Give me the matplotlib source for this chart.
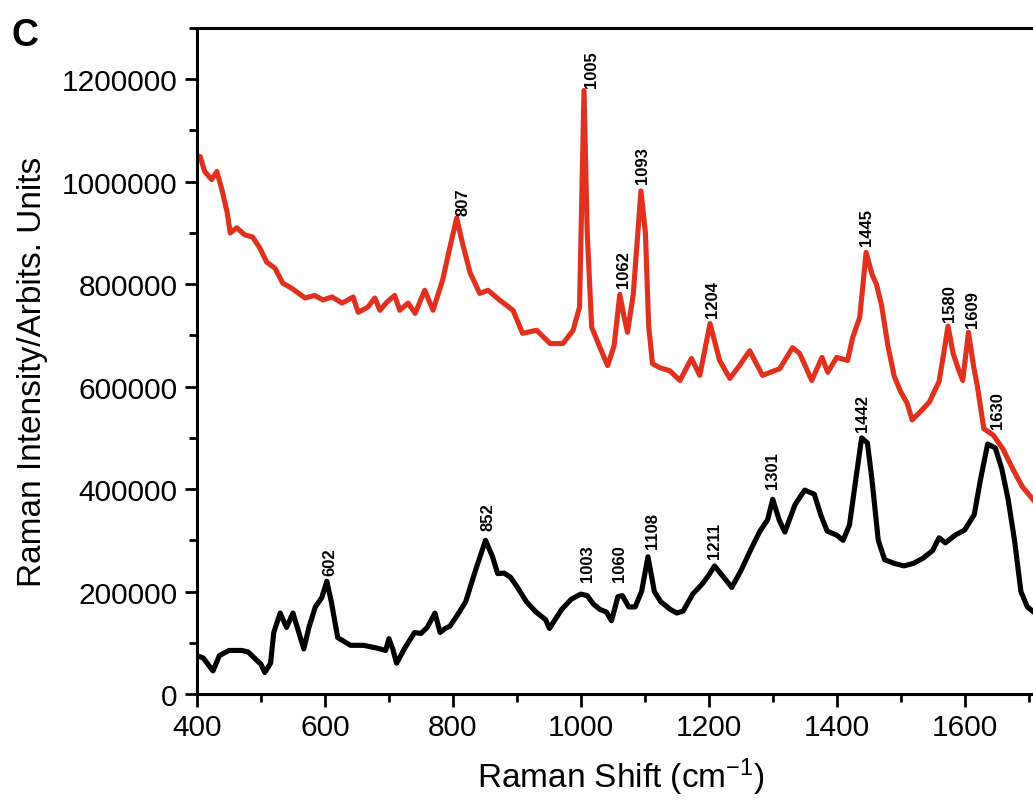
import numpy as np
import matplotlib.pyplot as plt
from matplotlib.ticker import MultipleLocator

plt.rcParams['font.family'] = ['Liberation Sans', 'DejaVu Sans']
plt.rcParams['mathtext.default'] = 'regular'

# red spectrum (upper)
red_x = [400, 405, 412, 423, 431, 439, 447, 452, 462, 475, 487, 498, 509, 522, 534, 548, 569,
         584, 597, 611, 627, 644, 652, 667, 678, 686, 697, 709, 717, 730, 741, 756, 769, 784,
         795, 806, 815, 827, 842, 855, 873, 894, 909, 931, 952, 972, 988, 998, 1005, 1010, 1017,
         1030, 1042, 1052, 1061, 1067, 1073, 1082, 1094, 1101, 1106, 1112, 1123, 1139, 1155,
         1173, 1186, 1202, 1217, 1233, 1248, 1264, 1284, 1311, 1331, 1342, 1361, 1377, 1386,
         1400, 1417, 1425, 1436, 1446, 1455, 1462, 1470, 1480, 1490, 1500, 1510, 1518, 1530,
         1545, 1560, 1568, 1574, 1582, 1590, 1597, 1606, 1614, 1620, 1630, 1645, 1660, 1675,
         1690, 1710]
red_y = [1050000, 1049000, 1020000, 1004000, 1020000, 984000, 941000, 900000, 910000, 896000,
         892000, 871000, 843000, 831000, 802000, 792000, 773000, 778000, 769000, 775000, 763000,
         775000, 745000, 755000, 773000, 749000, 765000, 778000, 749000, 763000, 743000, 788000,
         749000, 808000, 870000, 929000, 880000, 822000, 782000, 788000, 769000, 749000, 704000,
         710000, 684000, 684000, 710000, 755000, 1178000, 900000, 716000, 676000, 641000, 680000,
         780000, 740000, 706000, 780000, 982000, 900000, 720000, 645000, 637000, 631000, 612000,
         655000, 622000, 723000, 651000, 616000, 641000, 670000, 622000, 635000, 676000, 665000,
         612000, 657000, 628000, 657000, 651000, 696000, 735000, 862000, 820000, 800000, 760000,
         680000, 620000, 590000, 568000, 535000, 550000, 570000, 610000, 670000, 718000, 665000,
         635000, 612000, 706000, 640000, 600000, 518000, 505000, 478000, 440000, 405000, 375000]

# black spectrum (lower)
blk_x = [400, 410, 425, 435, 450, 470, 480, 490, 500, 506, 515, 520, 530, 540, 550, 558, 567,
         575, 585, 595, 603, 610, 620, 640, 660, 680, 695, 700, 706, 712, 725, 740, 750, 760, 772,
         780, 788, 795, 805, 820, 835, 851, 862, 870, 880, 890, 900, 915, 930, 945, 951, 970, 985,
         1000, 1010, 1020, 1030, 1040, 1048, 1058, 1065, 1075, 1085, 1095, 1105, 1115, 1125, 1140,
         1150, 1160, 1175, 1190, 1200, 1209, 1222, 1236, 1250, 1265, 1280, 1292, 1300, 1310, 1319,
         1335, 1350, 1365, 1375, 1385, 1400, 1410, 1420, 1430, 1439, 1448, 1455, 1465, 1475, 1490,
         1505, 1520, 1535, 1550, 1560, 1570, 1585, 1600, 1615, 1625, 1636, 1648, 1658, 1668, 1678,
         1688, 1698, 1710]
blk_y = [75000, 70000, 45000, 75000, 85000, 85000, 82000, 70000, 58000, 42000, 60000, 120000,
         158000, 130000, 158000, 125000, 88000, 130000, 170000, 188000, 220000, 180000, 110000,
         95000, 95000, 90000, 85000, 108000, 88000, 60000, 90000, 120000, 118000, 130000, 158000,
         120000, 128000, 132000, 150000, 180000, 240000, 300000, 268000, 235000, 236000, 228000,
         210000, 180000, 160000, 145000, 128000, 165000, 185000, 195000, 192000, 175000, 165000,
         160000, 143000, 190000, 192000, 170000, 170000, 200000, 268000, 200000, 180000, 165000,
         158000, 162000, 195000, 215000, 232000, 250000, 230000, 208000, 240000, 280000, 318000,
         340000, 380000, 340000, 316000, 370000, 398000, 390000, 350000, 318000, 310000, 300000,
         330000, 420000, 500000, 490000, 420000, 300000, 262000, 255000, 250000, 255000, 265000,
         280000, 305000, 295000, 310000, 320000, 350000, 420000, 488000, 480000, 440000, 380000,
         300000, 200000, 170000, 158000]

red_lab = ['807', '1005', '1062', '1093', '1204', '1445', '1580', '1609', '1630']
red_lab_x = [816, 1016, 1066, 1097, 1206, 1447, 1577, 1612, 1652]
red_lab_y = [935000, 1185000, 794000, 998000, 735000, 877000, 729000, 716000, 520000]

blk_lab = ['602', '852', '1003', '1060', '1108', '1211', '1301', '1442']
blk_lab_x = [608, 855, 1011, 1061, 1112, 1209, 1300, 1441]
blk_lab_y = [233000, 321000, 220000, 220000, 284000, 265000, 402000, 514000]

red = '#e0301e'

fig = plt.figure(figsize=(10.33, 8.03), dpi=100)
ax = fig.add_axes([0.1907, 0.1345, 0.836, 0.8294])

ax.plot(blk_x, blk_y, color='black', lw=3.7, solid_joinstyle='round')
ax.plot(red_x, red_y, color=red, lw=3.7, solid_joinstyle='round')

for t, x, y in zip(red_lab, red_lab_x, red_lab_y):
    ax.text(x, y, t, rotation=90, ha='center', va='bottom', fontsize=12, fontweight='bold')
for t, x, y in zip(blk_lab, blk_lab_x, blk_lab_y):
    ax.text(x, y, t, rotation=90, ha='center', va='bottom', fontsize=12, fontweight='bold')

ax.set_xlim(400, 1750)
ax.set_ylim(0, 1300000)
ax.xaxis.set_major_locator(MultipleLocator(200))
ax.xaxis.set_minor_locator(MultipleLocator(100))
ax.yaxis.set_major_locator(MultipleLocator(200000))
ax.yaxis.set_minor_locator(MultipleLocator(100000))
ax.ticklabel_format(axis='y', style='plain', useOffset=False)
ax.tick_params(which='major', direction='out', length=9, width=2, labelsize=21.5, pad=5)
ax.tick_params(which='minor', direction='out', length=6, width=2)
ax.tick_params(top=False, right=False, which='both')
for s in ax.spines.values():
    s.set_linewidth(2.2)

fig.text(0.601, 0.032, 'Raman Shift (cm$^{-1}$)', fontsize=24, ha='center', va='center')
fig.text(0.031, 0.537, 'Raman Intensity/Arbits. Units', fontsize=24, rotation=90,
         ha='center', va='center')
fig.text(0.011, 0.943, 'C', fontsize=27, fontweight='bold')

fig.savefig('out.png', dpi=100)
